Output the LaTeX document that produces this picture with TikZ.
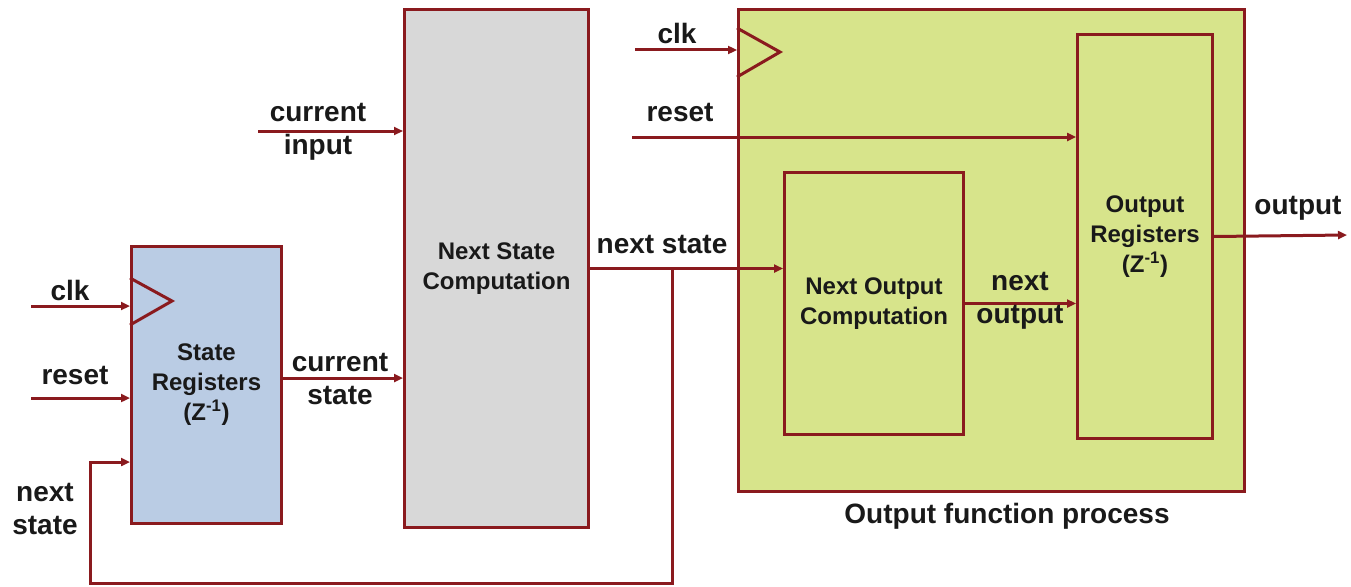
\documentclass[tikz,border=0pt]{standalone}
\usepackage{fontspec}
\setmainfont{Liberation Sans}
\usetikzlibrary{arrows.meta}
\definecolor{wire}{RGB}{138,26,30}
\definecolor{srfill}{RGB}{186,204,228}
\definecolor{nsfill}{RGB}{216,216,216}
\definecolor{offill}{RGB}{215,228,139}
\begin{document}
\begin{tikzpicture}[x=1pt,y=-1pt,
  box/.style={draw=wire, line width=3pt, anchor=north west, inner sep=0pt},
  wireline/.style={draw=wire, line width=3pt},
  wirearrow/.style={wireline, -{Triangle[length=9pt,width=8pt]}},
  lbl/.style={font=\fontsize{28}{33}\selectfont\bfseries, align=center, inner sep=0pt, text=black!90},
  inlbl/.style={font=\fontsize{24}{30}\selectfont\bfseries, align=center, inner sep=0pt, text=black!90}]
\useasboundingbox (0,0) rectangle (1351,586);

% boxes
\node[box, fill=srfill, minimum width=150pt, minimum height=277pt] (sr) at (130,245) {};
\node[box, fill=nsfill, minimum width=184pt, minimum height=518pt] (ns) at (403,8) {};
\node[box, fill=offill, minimum width=506pt, minimum height=482pt] (of) at (737,8) {};
\node[box, minimum width=179pt, minimum height=262pt] (no) at (783,171) {};
\node[box, minimum width=135pt, minimum height=404pt] (or) at (1076,33) {};

% box texts
\node[inlbl] (srt) at (sr.center) {State\\Registers\\(Z\textsuperscript{-1})};
\node[inlbl] (nst) at (ns.center) {Next State\\Computation};
\node[inlbl] (not) at (no.center) {Next Output\\Computation};
\node[inlbl] (ort) at (or.center) {Output\\Registers\\(Z\textsuperscript{-1})};
\node[lbl] (oft) at (1007,516) {Output function process};

% clock triangles
\draw[wireline, line join=miter] (130,278) -- (172,301) -- (130,325);
\draw[wireline, line join=miter] (737,28) -- (780,52) -- (737,77);

% left inputs
\coordinate (clkA) at (31,306);
\coordinate (rstA) at (31,398);
\draw[wirearrow] (clkA) -- (sr.west |- clkA);
\draw[wirearrow] (rstA) -- (sr.west |- rstA);
\node[lbl] (clkL) at (70,290) {clk};
\node[lbl] (rstL) at (75,375) {reset};

% current state
\coordinate (csA) at (280,378);
\draw[wirearrow] (csA) -- (ns.west |- csA);
\node[lbl] (csL) at (340,379) {current\\state};

% current input
\coordinate (ciA) at (258,131);
\draw[wirearrow] (ciA) -- (ns.west |- ciA);
\node[lbl] (ciL) at (318,132) {current\\input};

% next state and feedback
\draw[wirearrow] (ns.east) -- (no.west |- ns.east);
\coordinate (tap) at (672,267);
\coordinate (fbA) at (672,583);
\coordinate (fbB) at (90,583);
\coordinate (fbC) at (90,462);
\draw[wirearrow] (tap) -- (fbA) -- (fbB) -- (fbC) -- (sr.west |- fbC);
\node[lbl] (nsL) at (662,245) {next state};
\node[lbl] (nsL2) at (45,509) {next\\state};

% output block inputs
\coordinate (clkB) at (635,50);
\coordinate (rstB) at (632,137);
\draw[wirearrow] (clkB) -- (of.west |- clkB);
\draw[wirearrow] (rstB) -- (or.west |- rstB);
\node[lbl] (clkL2) at (677,33) {clk};
\node[lbl] (rstL2) at (680,113) {reset};

% next output
\draw[wirearrow] (no.east) -- (or.west |- no.east);
\node[lbl] (noL) at (1020,301) {next\\output};

% output
\coordinate (outE) at (1347,235);
\draw[wirearrow] (or.east) -- (outE);
\node[lbl] (outL) at (1298,208) {output};
\end{tikzpicture}
\end{document}
